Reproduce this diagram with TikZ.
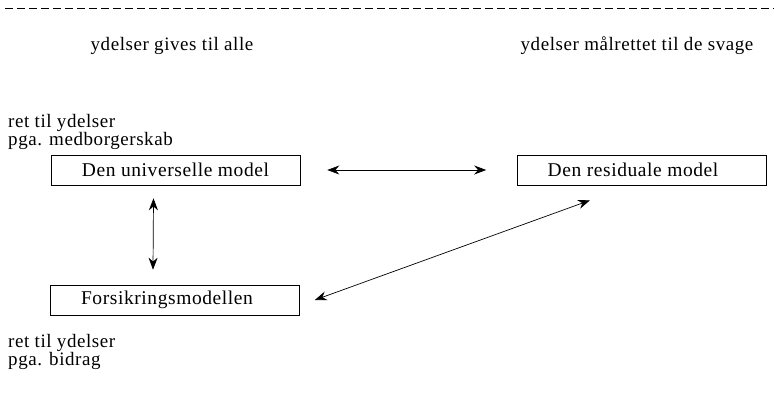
\documentclass[tikz,border=0pt]{standalone}
\usepackage{fontspec}
\setmainfont{Liberation Serif}[LetterSpace=3]
\usetikzlibrary{arrows.meta}
\begin{document}
\begin{tikzpicture}[x=1pt,y=-1pt,
  modelbox/.style={draw,line width=0.6pt,minimum width=249pt,minimum height=30pt,inner sep=0pt,font=\fontsize{19.5}{22}\selectfont},
  lbl/.style={font=\fontsize{19}{21}\selectfont,inner sep=0pt},
  conn/.style={line width=0.7pt,{Stealth[length=12pt,width=9pt]}-{Stealth[length=12pt,width=9pt]}}]
\useasboundingbox (0,0) rectangle (774,400);
\coordinate (dl) at (5,8);
\coordinate (dr) at (774,8);
\draw[line width=0.8pt,dash pattern=on 8pt off 4pt] (dl) -- (dr);
\node[lbl] (hl) at (172,46) {ydelser gives til alle};
\node[lbl] (hr) at (637,46) {ydelser målrettet til de svage};
\node[lbl,anchor=west] (t1) at (8,123) {ret til ydelser};
\node[lbl,anchor=west] (t2) at (8,141) {pga. medborgerskab};
\node[modelbox] (u) at (175.5,170) {Den universelle model};
\node[modelbox] (r) at (642,170) {\hspace*{-18pt}Den residuale model};
\node[modelbox] (f) at (175,300) {\hspace*{-16pt}Forsikringsmodellen};
\node[lbl,anchor=west] (b1) at (8,343) {ret til ydelser};
\node[lbl,anchor=west] (b2) at (8,361) {pga. bidrag};
\draw[conn] ([xshift=27pt]u.east) -- ([xshift=-31pt]r.west);
\draw[conn] ([xshift=-22pt,yshift=-13pt]u.south) -- ([xshift=-22pt,yshift=15pt]f.north);
\draw[conn] ([xshift=15pt]f.east) -- ([xshift=-52pt,yshift=-15pt]r.south);
\end{tikzpicture}
\end{document}
